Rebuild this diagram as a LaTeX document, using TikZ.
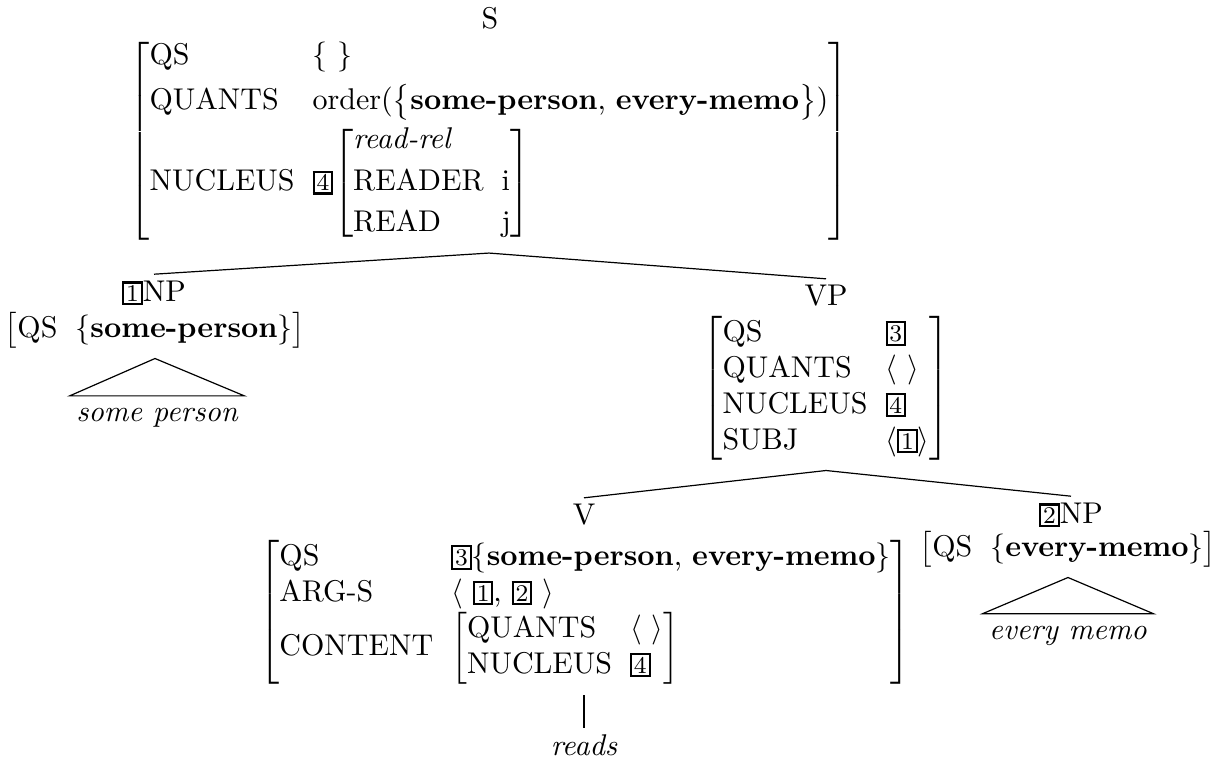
\documentclass[tikz,border=0pt]{standalone}
\usetikzlibrary{positioning}
\newcommand{\tagb}[1]{{\setlength{\fboxsep}{0.6pt}\setlength{\fboxrule}{0.7pt}\fbox{\footnotesize #1}}}
\newcommand{\feat}[1]{$\left[\begin{tabular}{@{}l@{\hspace{6pt}}l@{}}#1\end{tabular}\right]$}
\tikzset{avm/.style={inner sep=3.3pt},
  lab/.style={inner sep=2pt},
  leaf/.style={font=\itshape, inner xsep=2pt, inner ysep=4pt}}
\begin{document}
\begin{tikzpicture}[x=0.3333pt, y=-0.3333pt]
    %tree of the sentence
    \useasboundingbox (0,0) rectangle (1217,765);
\node[lab] (slab) at (490,18) {S};
\node[avm] (savm) at (489,141) {\feat{QS & $\{\ \}$\\[3pt]
      QUANTS & order($\bigl\{$\textbf{some-person}, \textbf{every-memo}$\bigr\}$)\\[1pt]
      NUCLEUS & \tagb{4}\feat{\textit{read-rel} & \\[1.8pt] READER & i\\[1.8pt] READ & j}}};

            \node[lab] (np1lab) at (154,293) {\tagb{1}NP};
            \node[avm] (np1avm) at (155,330) {\feat{QS & $\{$\textbf{some-person}$\}$}};
            \node[leaf] (sp) at (157,418) {some person};

            \node[lab] (vplab) at (826,296) {VP};
            \node[avm] (vpavm) at (826,388) {\feat{QS & \tagb{3}\\ QUANTS & $\langle\ \rangle$\\
                NUCLEUS & \tagb{4}\\ SUBJ & $\langle$\tagb{1}$\rangle$}};

    \node[lab] (vlab) at (584,515) {V};
    \node[avm] (vavm) at (585,612) {\feat{QS & \tagb{3}$\{$\textbf{some-person}, \textbf{every-memo}$\}$\\
        ARG-S & $\langle$\ \tagb{1}, \tagb{2}\ $\rangle$\\
        CONTENT & \feat{QUANTS & $\langle\ \rangle$\\ NUCLEUS & \tagb{4}}}};
    \node[leaf, inner ysep=2pt] (rd) at (584,745) {reads};

    \node[lab] (np2lab) at (1071,515) {\tagb{2}NP};
    \node[avm] (np2avm) at (1068,549) {\feat{QS & $\{$\textbf{every-memo}$\}$}};
    \node[leaf] (em) at (1068,636) {every memo};

\draw (savm.south) -- (np1lab.north);
\draw (savm.south) -- (vplab.north);
\draw (vpavm.south) -- (vlab.north);
\draw (vpavm.south) -- (np2lab.north);
            \draw (np1avm.south) -- (sp.north west) -- (sp.north east) -- cycle;
            \draw (np2avm.south) -- (em.north west) -- (em.north east) -- cycle;
            \draw (rd.north) -- (rd.north |- vavm.south);
  \end{tikzpicture}
\end{document}
